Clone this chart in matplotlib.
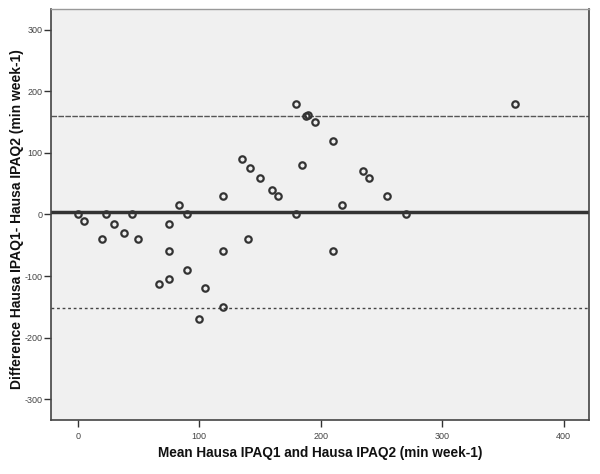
import numpy as np
import matplotlib
matplotlib.use('Agg')
from matplotlib import pyplot as plt

# Bland-Altman data
mean_vals = [0, 5, 20, 23, 30, 38, 45, 50, 67, 75, 75, 75, 83, 90, 90,
             100, 105, 120, 120, 120, 135, 140, 142, 150, 160, 165,
             180, 180, 185, 188, 190, 195, 210, 210, 218, 235, 240, 255, 270, 360]
diff_vals = [0, -10, -40, 0, -15, -30, 0, -40, -113, -15, -60, -105, 15, 0, -90,
             -170, -120, -150, -60, 30, 90, -40, 75, 60, 40, 30,
             180, 0, 80, 160, 162, 150, 120, -60, 15, 70, 60, 30, 0, 180]
mean_diff = 4
upper_loa = 160
lower_loa = -152

x_ticks = [0, 100, 200, 300, 400]
y_ticks = [-300, -200, -100, 0, 100, 200, 300]

plt.rcParams['font.family'] = ['Liberation Sans', 'DejaVu Sans']
plt.rcParams['axes.unicode_minus'] = False

fig = plt.figure(figsize=(6, 4.74), dpi=100)
ax = fig.add_axes([0.085, 0.114, 0.8967, 0.867])
ax.set_facecolor('#f0f0f0')

ax.axhline(upper_loa, color='#555555', lw=1.0, ls=(0, (4, 1)), zorder=2)
ax.axhline(mean_diff, color='#333333', lw=2.5, zorder=2)
ax.axhline(lower_loa, color='#444444', lw=1.0, ls=(0, (2, 2)), zorder=2)

ax.plot(mean_vals, diff_vals, 'o', ms=4.6, mfc='none', mec='#333333', mew=1.6, zorder=3)

ax.set_xlim(-22, 421)
ax.set_ylim(-334, 334)
ax.set_xticks(x_ticks)
ax.set_yticks(y_ticks)
ax.tick_params(axis='both', labelsize=6.5, labelcolor='#444444', color='#333333',
               direction='out', length=5, width=1)
ax.tick_params(axis='y', pad=1)

for side in ['left', 'bottom', 'right']:
    ax.spines[side].set_color('#444444')
    ax.spines[side].set_linewidth(1.2)
ax.spines['top'].set_color('#999999')
ax.spines['top'].set_linewidth(1.0)

ax.set_xlabel('Mean Hausa IPAQ1 and Hausa IPAQ2 (min week-1)', fontsize=9.8,
              fontweight='bold', color='#111111', va='center')
ax.xaxis.set_label_coords(0.5, -0.080)
ax.set_ylabel('Difference Hausa IPAQ1- Hausa IPAQ2 (min week-1)', fontsize=10,
              fontweight='bold', color='#111111', va='center')
ax.yaxis.set_label_coords(-0.0632, 0.49)

plt.savefig('out.png', dpi=100)
